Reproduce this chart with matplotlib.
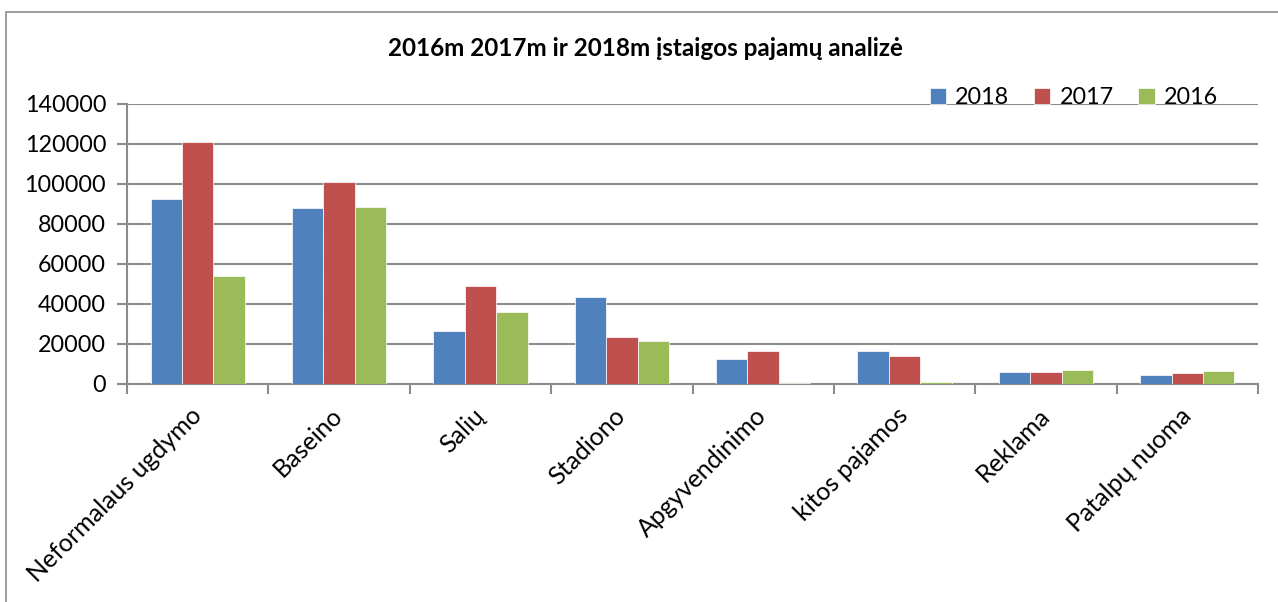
import matplotlib
matplotlib.use("Agg")
import matplotlib.pyplot as plt
from matplotlib.patches import Rectangle
import matplotlib.transforms as mtransforms
import numpy as np

categories = ["Neformalaus ugdymo", "Baseino", "Salių", "Stadiono",
              "Apgyvendinimo", "kitos pajamos", "Reklama", "Patalpų nuoma"]
series_names = ["2018", "2017", "2016"]
v2018 = [92500, 88000, 26300, 43500, 12300, 16300, 6150, 4500]
v2017 = [121000, 101000, 48800, 23650, 16500, 14150, 6000, 5300]
v2016 = [54000, 88500, 36150, 21300, 500, 800, 6800, 6650]
colors = ["#4F81BD", "#C0504D", "#9BBB59"]
yticks = [0, 20000, 40000, 60000, 80000, 100000, 120000, 140000]
title = "2016m 2017m ir 2018m įstaigos pajamų analizė"

plt.rcParams['font.family'] = ['Lato', 'DejaVu Sans']

W, H = 1278, 602
fig = plt.figure(figsize=(W/100, H/100), dpi=100)
ax = fig.add_axes([127/W, 1-384/H, (1258-127)/W, (384-104)/H])

x = np.arange(len(categories))
bw = 0.222
for i, (vals, name) in enumerate(zip([v2018, v2017, v2016], series_names)):
    ax.bar(x + (i-1)*bw, vals, width=bw, color=colors[i], label=name,
           edgecolor='white', linewidth=0.5, zorder=3)

ax.set_xlim(-0.5, len(categories)-0.5)
ax.set_ylim(0, 140000)
ax.set_yticks(yticks)
ax.set_yticklabels([str(t) for t in yticks], fontsize=16.8)
ax.yaxis.grid(True, color='#8c8c8c', linewidth=1.5, zorder=0)
ax.set_axisbelow(True)

ax.set_xticks(np.arange(len(categories)+1)-0.5, minor=False)
ax.set_xticklabels([])
ax.tick_params(axis='x', which='major', length=7, color='#8c8c8c', width=1.5)
ax.set_xticks(x, minor=True)
labels = ax.set_xticklabels(categories, minor=True, rotation=45, ha='right',
                            va='center', rotation_mode='anchor', fontsize=18)
offset = mtransforms.ScaledTranslation(-4/100, 0, fig.dpi_scale_trans)
for lab in labels:
    lab.set_transform(lab.get_transform() + offset)
ax.tick_params(axis='x', which='minor', length=0, pad=20)
ax.tick_params(axis='y', length=7, color='#8c8c8c', width=1.5, pad=8)

for s in ['top', 'right']:
    ax.spines[s].set_visible(False)
for s in ['left', 'bottom']:
    ax.spines[s].set_color('#8c8c8c')
    ax.spines[s].set_linewidth(1.5)

fig.text(645/W, 1-48/H, title, ha='center', va='center', fontsize=17.5,
         fontweight='bold')

leg = ax.legend(loc='upper right', bbox_to_anchor=(1239/W, 1-66/H),
                bbox_transform=fig.transFigure, ncol=3, frameon=False,
                fontsize=16.8, handlelength=0.7, handleheight=0.7,
                handletextpad=0.4, columnspacing=1.05)

fig.patches.append(Rectangle((6/W, -0.05), 1.1, 1.05-12/H,
                             transform=fig.transFigure, fill=False,
                             edgecolor='#8c8c8c', linewidth=1.2))

fig.savefig("out.png", dpi=100)
